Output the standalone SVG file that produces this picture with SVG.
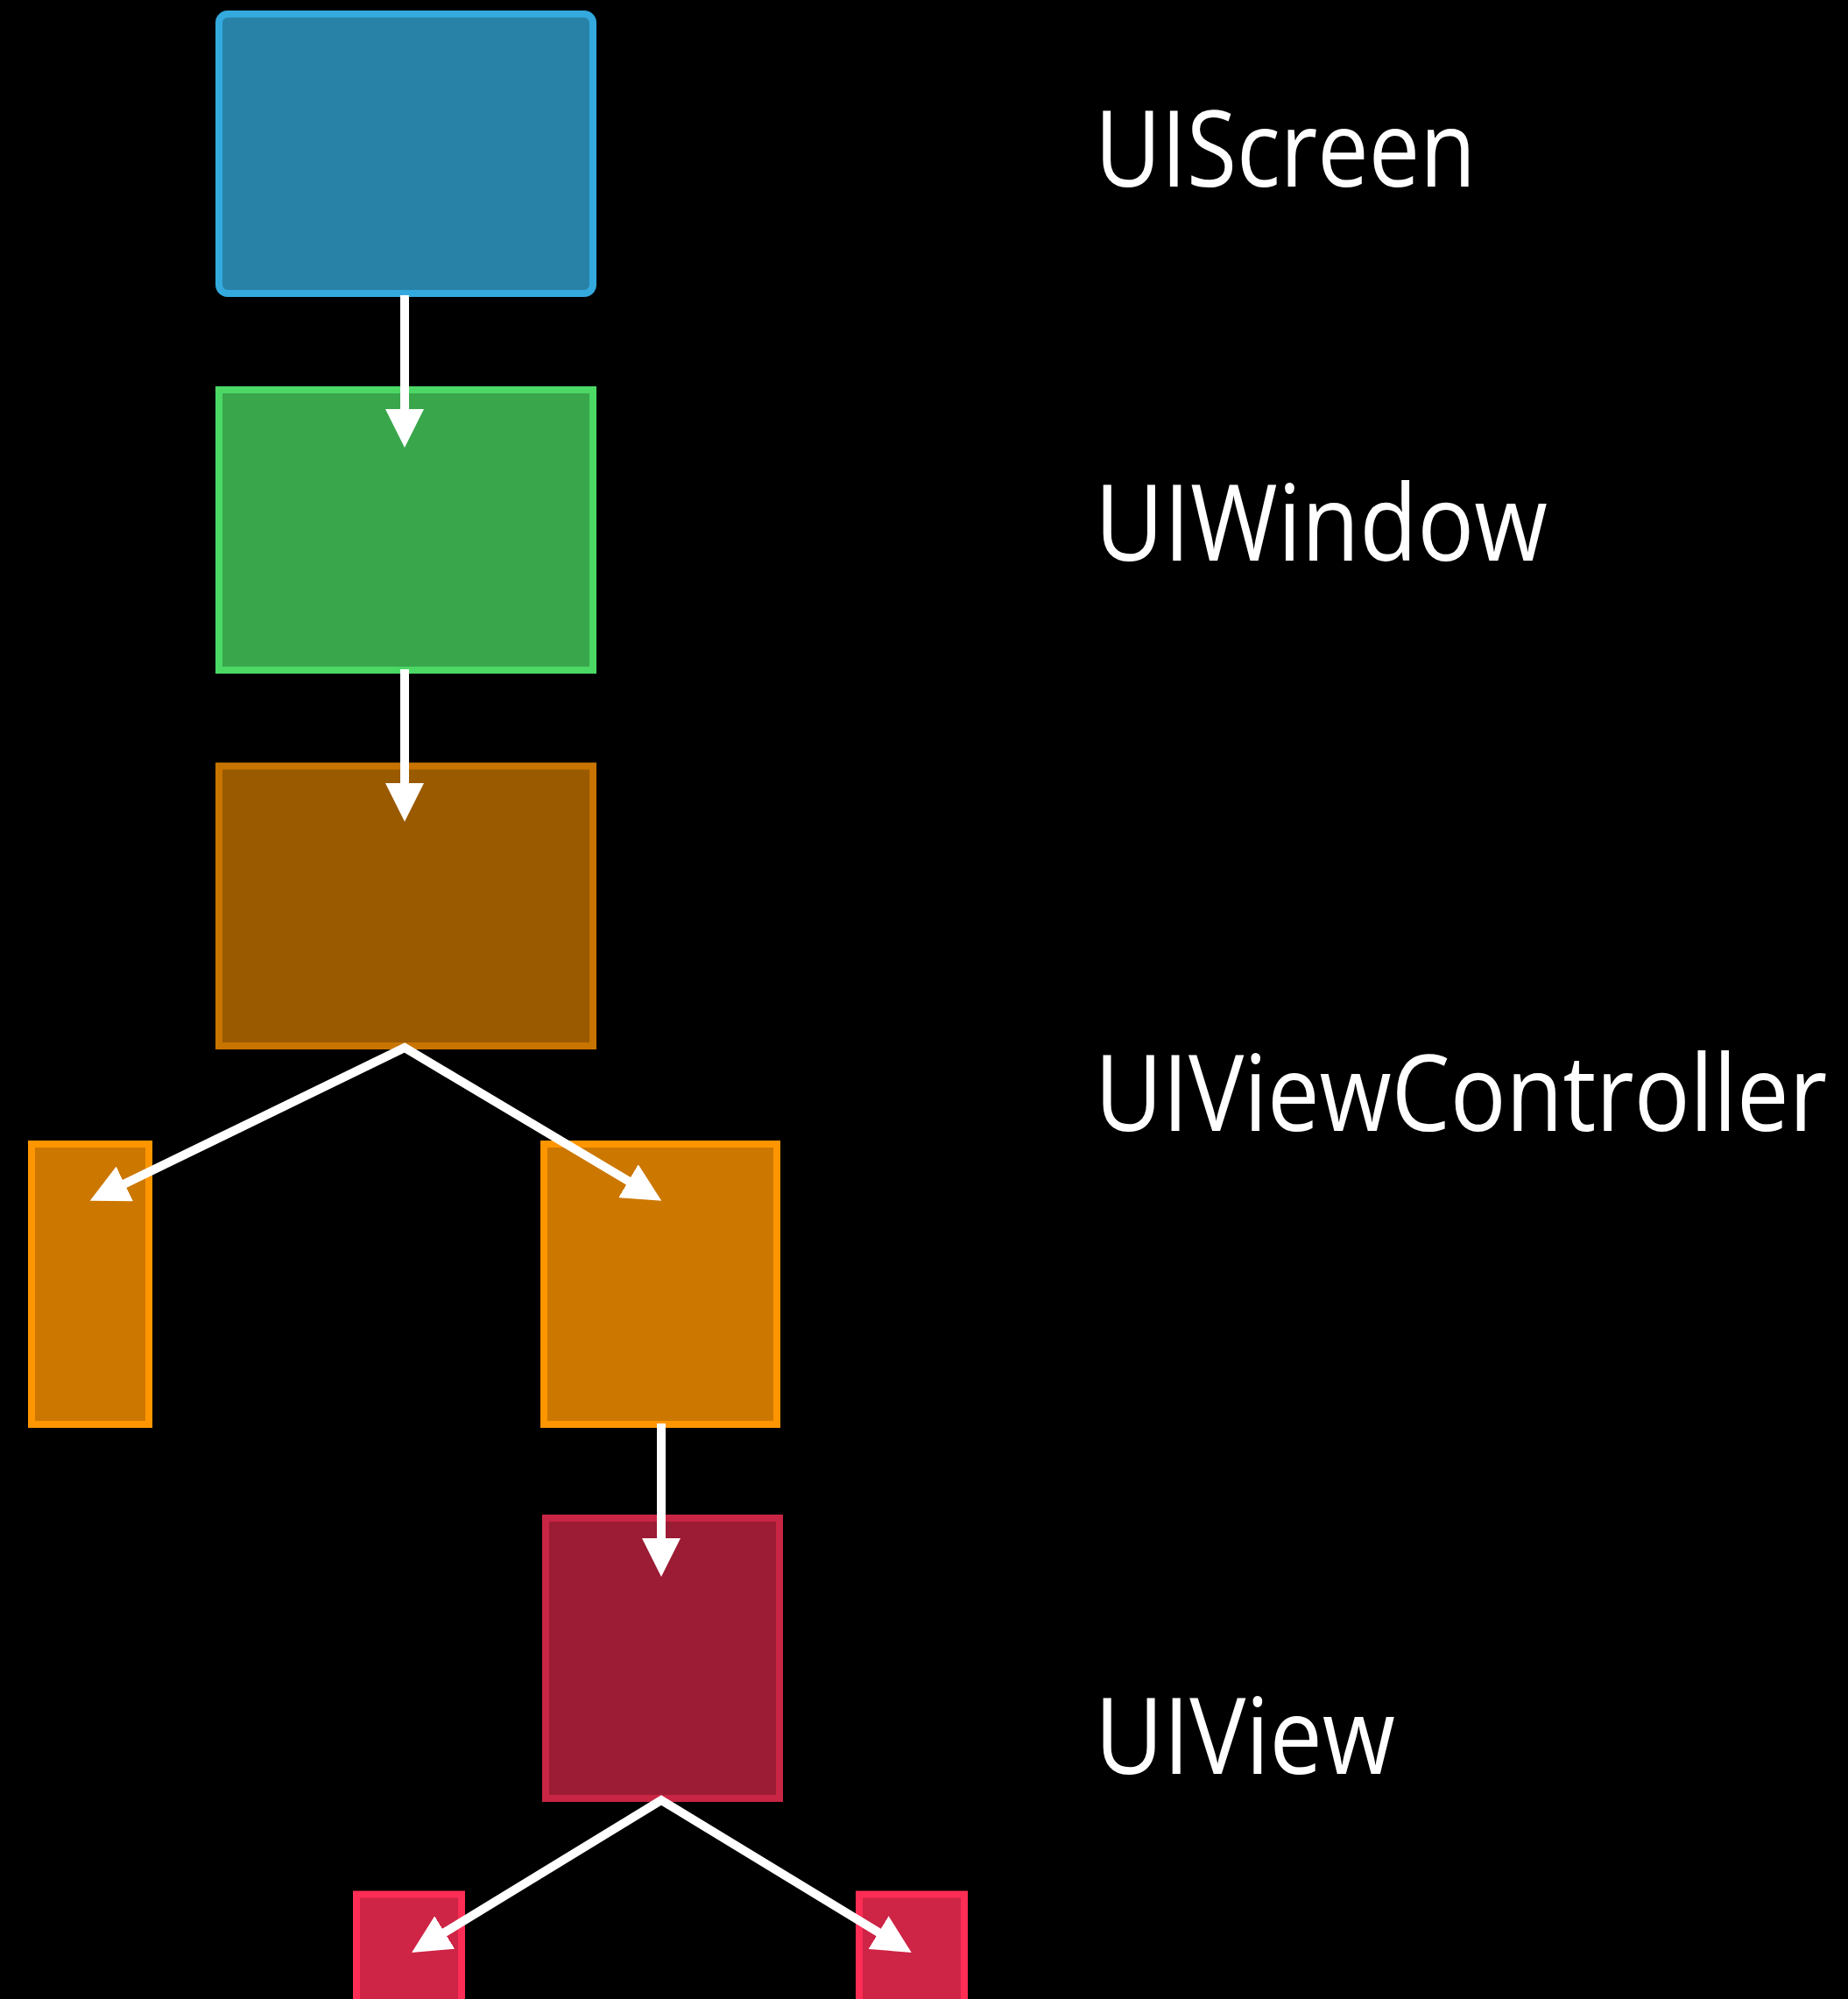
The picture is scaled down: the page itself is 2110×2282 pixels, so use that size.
<svg xmlns="http://www.w3.org/2000/svg" width="2110" height="2282" viewBox="0 0 2110 2282">
  <style>
    .box { stroke-width: 8; }
    .lbl { font-family: "Open Sans", "Liberation Sans", sans-serif; font-size: 120px; fill: #ffffff; }
    .conn { fill: none; stroke: #ffffff; stroke-width: 10; stroke-linejoin: miter; stroke-miterlimit: 10; }
  </style>
  <defs>
    <marker id="head" markerUnits="userSpaceOnUse" markerWidth="44" markerHeight="44" refX="2" refY="22" orient="auto-start-reverse" viewBox="0 0 44 44">
      <path d="M0,0 L44,22 L0,44 z" fill="#ffffff"/>
    </marker>
  </defs>
  <rect x="0" y="0" width="2110" height="2282" fill="#000000"/>

  <g id="uiscreen">
    <rect class="box" x="250" y="16" width="427" height="319" rx="10" fill="#2882A8" stroke="#34A9DD"/>
  </g>
  <g id="uiwindow">
    <rect class="box" x="250" y="445" width="427" height="320" fill="#3AA64C" stroke="#4BD865"/>
  </g>
  <g id="root-vc">
    <rect class="box" x="250" y="874.5" width="427" height="319.5" fill="#995A00" stroke="#C87400"/>
  </g>
  <g id="child-vc-left">
    <rect class="box" x="36" y="1306" width="134" height="320" fill="#CC7700" stroke="#FF9500"/>
  </g>
  <g id="child-vc-right">
    <rect class="box" x="621" y="1306" width="266" height="320" fill="#CC7700" stroke="#FF9500"/>
  </g>
  <g id="root-view">
    <rect class="box" x="623" y="1733" width="267" height="320" fill="#9B1C34" stroke="#C92544"/>
  </g>
  <g id="subview-left">
    <rect class="box" x="407" y="2162.5" width="120" height="200" fill="#CE2445" stroke="#FE2D55"/>
  </g>
  <g id="subview-right">
    <rect class="box" x="981" y="2162.5" width="120" height="200" fill="#CE2445" stroke="#FE2D55"/>
  </g>

  <g id="connectors">
    <path class="conn" d="M462,337 L462,469" marker-end="url(#head)"/>
    <path class="conn" d="M462,764 L462,896" marker-end="url(#head)"/>
    <path class="conn" d="M140.5,1352.3 L462,1196 L719.2,1349.2" marker-start="url(#head)" marker-end="url(#head)"/>
    <path class="conn" d="M755,1625 L755,1758" marker-end="url(#head)"/>
    <path class="conn" d="M506,2207.1 L755,2055 L1004.8,2207.1" marker-start="url(#head)" marker-end="url(#head)"/>
  </g>

  <g id="labels" transform="scale(0.78,1)">
    <text class="lbl" x="1602.6" y="213" textLength="557.7" lengthAdjust="spacingAndGlyphs">UIScreen</text>
    <text class="lbl" x="1602.6" y="640" textLength="662.8" lengthAdjust="spacingAndGlyphs">UIWindow</text>
    <text class="lbl" x="1602.6" y="1291" textLength="1071.8" lengthAdjust="spacingAndGlyphs">UIViewController</text>
    <text class="lbl" x="1602.6" y="2025" textLength="439.7" lengthAdjust="spacingAndGlyphs">UIView</text>
  </g>
</svg>
